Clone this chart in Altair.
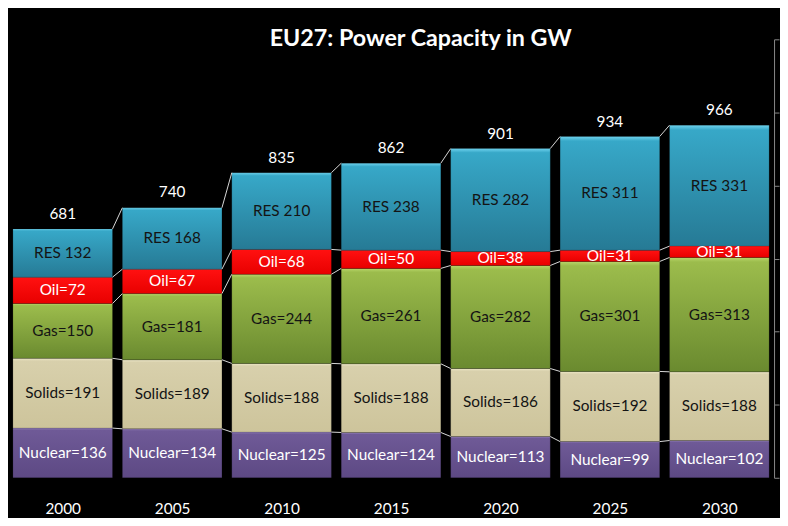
import altair as alt
import pandas as pd

years = ["2000", "2005", "2010", "2015", "2020", "2025", "2030"]
nuclear = [136, 134, 125, 124, 113, 99, 102]
solids = [191, 189, 188, 188, 186, 192, 188]
gas = [150, 181, 244, 261, 282, 301, 313]
oil = [72, 67, 68, 50, 38, 31, 31]
res = [132, 168, 210, 238, 282, 311, 331]
totals = [681, 740, 835, 862, 901, 934, 966]

series_order = ["Nuclear", "Solids", "Gas", "Oil", "RES"]
series_values = [nuclear, solids, gas, oil, res]
label_prefix = {"Nuclear": "Nuclear=", "Solids": "Solids=", "Gas": "Gas=", "Oil": "Oil=", "RES": "RES "}

rows = []
for i, yr in enumerate(years):
    base = 0
    for s, vals in zip(series_order, series_values):
        v = vals[i]
        rows.append(dict(idx=i, year=yr, series=s, value=v, y0=base, y1=base + v,
                         label=label_prefix[s] + str(v)))
        base += v
df = pd.DataFrame(rows)

conn_rows = []
for i in range(len(years) - 1):
    for s in series_order:
        a = df[(df.idx == i) & (df.series == s)].iloc[0]
        b = df[(df.idx == i + 1) & (df.series == s)].iloc[0]
        conn_rows.append(dict(idx=i, series=s, ya=a.y1, yb=b.y1))
conn = pd.DataFrame(conn_rows)

tot = pd.DataFrame(dict(idx=list(range(len(years))), total=totals))

HW = 0.455
FONT = "Lato"
FS = 15.5
xscale = alt.Scale(domain=[-0.5, len(years) - 0.5], nice=False, zero=False)
yscale = alt.Scale(domain=[0, 1200], nice=False)
label_expr = "[" + ",".join("'%s'" % y for y in years) + "][datum.value]"

xaxis = alt.Axis(values=list(range(len(years))), labelExpr=label_expr, domain=False, ticks=False,
                 grid=False, labelColor="white", labelFontSize=FS, labelFont=FONT,
                 labelPadding=24, title=None)
yaxis = alt.Axis(orient="right", values=[0, 200, 400, 600, 800, 1000, 1200], labels=False,
                 grid=False, domainColor="#8a8a8a", tickColor="#8a8a8a", tickSize=5, title=None)


def grad(c0, c1, c2):
    return alt.LinearGradient(
        gradient="linear", x1=0, x2=0, y1=0, y2=1,
        stops=[alt.GradientStop(offset=0, color=c0),
               alt.GradientStop(offset=0.04, color=c1),
               alt.GradientStop(offset=1, color=c2)])


colors = {
    "RES": ("#6fd3ee", "#37a8c8", "#267a95"),
    "Oil": ("#ff6060", "#ff1010", "#e80000"),
    "Gas": ("#b8d66a", "#9cbc4c", "#6a8a2f"),
    "Solids": ("#ece6c6", "#d8d0ac", "#cdc49b"),
    "Nuclear": ("#9a86bf", "#6f5a97", "#5d4984"),
}

base = alt.Chart(df).transform_calculate(
    xl="datum.idx - %f" % HW, xr="datum.idx + %f" % HW, mid="(datum.y0 + datum.y1) / 2")

layers = []
for s in series_order:
    layers.append(
        base.transform_filter(alt.datum.series == s).mark_bar(
            color=grad(*colors[s]), stroke="#000000", strokeOpacity=0.25, strokeWidth=0.6
        ).encode(
            x=alt.X("xl:Q", scale=xscale, axis=xaxis),
            x2="xr:Q",
            y=alt.Y("y0:Q", scale=yscale, axis=yaxis),
            y2="y1:Q",
        )
    )

connectors = alt.Chart(conn).transform_calculate(
    xa="datum.idx + %f" % HW, xb="datum.idx + 1 - %f" % HW
).mark_rule(color="#d9d9d9", strokeWidth=1).encode(
    x=alt.X("xa:Q", scale=xscale, axis=xaxis),
    x2="xb:Q",
    y=alt.Y("ya:Q", scale=yscale, axis=yaxis),
    y2="yb:Q",
)

dark_text = base.transform_filter(
    alt.FieldOneOfPredicate(field="series", oneOf=["RES", "Gas", "Solids"])
).mark_text(font=FONT, fontSize=FS, color="#141414", baseline="middle").encode(
    x=alt.X("idx:Q", scale=xscale, axis=xaxis),
    y=alt.Y("mid:Q", scale=yscale, axis=yaxis),
    text="label:N",
)

light_text = base.transform_filter(
    alt.FieldOneOfPredicate(field="series", oneOf=["Oil", "Nuclear"])
).mark_text(font=FONT, fontSize=FS, color="white", baseline="middle").encode(
    x=alt.X("idx:Q", scale=xscale, axis=xaxis),
    y=alt.Y("mid:Q", scale=yscale, axis=yaxis),
    text="label:N",
)

total_text = alt.Chart(tot).mark_text(
    font=FONT, fontSize=FS, color="white", baseline="middle", dy=-15
).encode(
    x=alt.X("idx:Q", scale=xscale, axis=xaxis),
    y=alt.Y("total:Q", scale=yscale, axis=yaxis),
    text="total:Q",
)

chart = alt.layer(*layers, connectors, dark_text, light_text, total_text).properties(
    width=774,
    height=443,
    background="black",
    padding={"left": 0, "top": 29, "right": 6, "bottom": 38},
    autosize=alt.AutoSizeParams(type="none"),
    title=alt.TitleParams(
        "EU27: Power Capacity in GW", color="white", fontSize=23.5, font=FONT,
        fontWeight="bold", anchor="middle", offset=-31, baseline="alphabetic", dx=30),
).configure_view(stroke=None)

chart.save("out.html", embed_options={"renderer": "svg", "actions": False})
